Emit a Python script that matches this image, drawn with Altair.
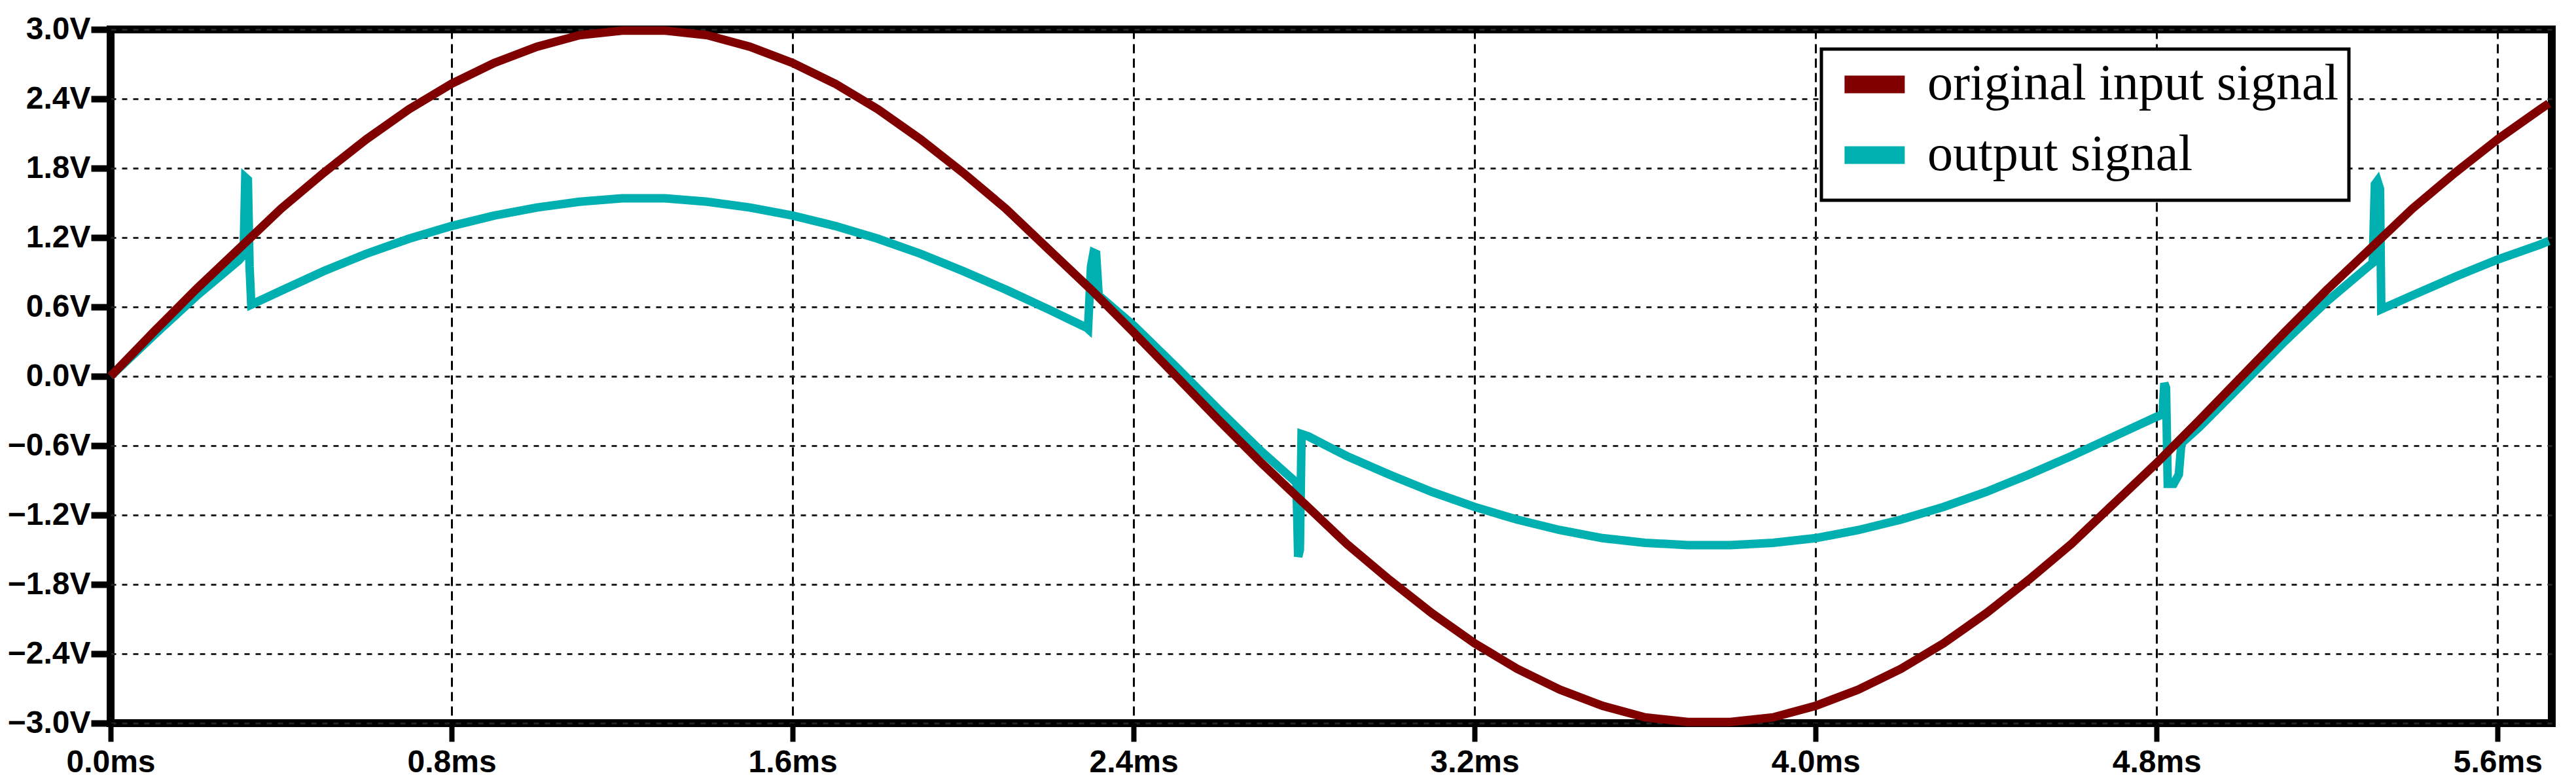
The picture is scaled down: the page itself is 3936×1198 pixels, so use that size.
import altair as alt
import pandas as pd

# ---- data ----
in_t = [0.0, 0.1, 0.2, 0.3, 0.4, 0.5, 0.6, 0.7, 0.8, 0.9, 1.0, 1.1, 1.2, 1.3, 1.4, 1.5,
        1.6, 1.7, 1.8, 1.9, 2.0, 2.1, 2.2, 2.3, 2.4, 2.5, 2.6, 2.7, 2.8, 2.9, 3.0, 3.1,
        3.2, 3.3, 3.4, 3.5, 3.6, 3.7, 3.8, 3.9, 4.0, 4.1, 4.2, 4.3, 4.4, 4.5, 4.6, 4.7,
        4.8, 4.9, 5.0, 5.1, 5.2, 5.3, 5.4, 5.5, 5.6, 5.7, 5.72]
in_v = [0.00, 0.38, 0.75, 1.10, 1.45, 1.76, 2.05, 2.31, 2.53, 2.71, 2.85, 2.95, 2.99, 2.99, 2.95, 2.85,
        2.71, 2.53, 2.31, 2.05, 1.76, 1.45, 1.10, 0.75, 0.38, 0.00, -0.38, -0.75, -1.10, -1.45, -1.76, -2.05,
        -2.31, -2.53, -2.71, -2.85, -2.95, -2.99, -2.99, -2.95, -2.85, -2.71, -2.53, -2.31, -2.05, -1.76, -1.45, -1.10,
        -0.75, -0.38, 0.00, 0.38, 0.75, 1.10, 1.45, 1.76, 2.05, 2.31, 2.36]

out_t = [0.00, 0.10, 0.20, 0.30, 0.312, 0.316, 0.322, 0.326, 0.330,
         0.40, 0.50, 0.60, 0.70, 0.80, 0.90, 1.00, 1.10, 1.20, 1.30, 1.40, 1.50,
         1.60, 1.70, 1.80, 1.90, 2.00, 2.10, 2.20, 2.29, 2.293, 2.300, 2.306, 2.312, 2.318,
         2.40, 2.50, 2.60, 2.70, 2.782, 2.786, 2.790, 2.794, 2.81,
         2.90, 3.00, 3.10, 3.20, 3.30, 3.40, 3.50, 3.60, 3.70, 3.80, 3.90, 4.00,
         4.10, 4.20, 4.30, 4.40, 4.50, 4.60, 4.70, 4.80, 4.814, 4.818, 4.822, 4.826,
         4.840, 4.852, 4.858, 4.90, 5.00, 5.10, 5.20, 5.30, 5.307, 5.312, 5.318, 5.324,
         5.327, 5.40, 5.50, 5.60, 5.70, 5.72]
out_v = [0.00, 0.35, 0.69, 1.00, 1.05, 1.72, 1.70, 0.95, 0.62,
         0.74, 0.91, 1.06, 1.19, 1.30, 1.39, 1.46, 1.51, 1.54, 1.54, 1.51, 1.46,
         1.39, 1.30, 1.19, 1.06, 0.91, 0.75, 0.58, 0.42, 0.41, 0.95, 1.07, 1.06, 0.70,
         0.44, 0.08, -0.29, -0.65, -0.92, -1.56, -1.50, -0.50, -0.52,
         -0.69, -0.85, -1.00, -1.13, -1.24, -1.33, -1.40, -1.44, -1.46, -1.46, -1.44, -1.40,
         -1.33, -1.24, -1.13, -1.00, -0.85, -0.69, -0.52, -0.35, -0.33, -0.06, -0.10, -0.93,
         -0.93, -0.85, -0.58, -0.44, -0.07, 0.30, 0.65, 0.96, 0.98, 1.66, 1.69, 1.62,
         0.58, 0.70, 0.86, 1.01, 1.14, 1.17]

series_names = ["original input signal", "output signal"]
series_colors = ["#800000", "#00b0b0"]
x_ticks = [0.0, 0.8, 1.6, 2.4, 3.2, 4.0, 4.8, 5.6]
y_ticks = [-3.0, -2.4, -1.8, -1.2, -0.6, 0.0, 0.6, 1.2, 1.8, 2.4, 3.0]

df_in = pd.DataFrame({"t": in_t, "v": in_v, "series": series_names[0]})
df_out = pd.DataFrame({"t": out_t, "v": out_v, "series": series_names[1]})

color = alt.Color(
    "series:N",
    scale=alt.Scale(domain=series_names, range=series_colors),
    legend=alt.Legend(
        title=None, orient="none", legendX=2614, legendY=30, direction="vertical",
        symbolType="M-0.81,0L3.19,0", symbolSize=2116, symbolStrokeWidth=27,
        labelFont="Liberation Serif", labelFontSize=78, labelColor="black",
        labelOffset=69, padding=15, rowPadding=0, labelLimit=0,
        strokeColor="black", fillColor="white",
    ),
)

x_enc = alt.X(
    "t:Q",
    scale=alt.Scale(domain=[0, 5.727], nice=False, zero=False),
    axis=alt.Axis(
        values=x_ticks, title=None, domain=False, grid=True,
        gridColor="black", gridDash=[14, 8], gridWidth=3,
        tickColor="black", tickSize=28, tickWidth=8,
        labelExpr="format(datum.value, '.1f') + 'ms'",
        labelFont="Liberation Sans", labelFontWeight="bold", labelFontSize=48,
        labelColor="black", labelPadding=8, labelFlush=False, labelOverlap=False,
    ),
)
y_enc = alt.Y(
    "v:Q",
    scale=alt.Scale(domain=[-3, 3], nice=False),
    axis=alt.Axis(
        values=y_ticks, title=None, domain=False, grid=True,
        gridColor="#222222", gridDash=[8, 9], gridWidth=3,
        tickColor="black", tickSize=30, tickWidth=10,
        labelExpr="format(datum.value, '.1f') + 'V'",
        labelFont="Liberation Sans", labelFontWeight="bold", labelFontSize=48,
        labelColor="black", labelPadding=1, labelFlush=False, labelOverlap=False,
    ),
)

out_line = alt.Chart(df_out).mark_line(strokeWidth=13, clip=False).encode(
    x=x_enc, y=y_enc, color=color
)
in_line = alt.Chart(df_in).mark_line(strokeWidth=13, clip=False).encode(
    x=x_enc, y=y_enc, color=color
)

chart = (
    alt.layer(out_line, in_line)
    .properties(
        width=3730,
        height=1060,
        autosize=alt.AutoSizeParams(type="none"),
        padding={"left": 161, "top": 37, "right": 20, "bottom": 90},
        background="white",
    )
    .configure_view(stroke="black", strokeWidth=12)
    .configure_legend(strokeWidth=5)
)

chart.save("out.html", embed_options={"renderer": "svg", "actions": False})
